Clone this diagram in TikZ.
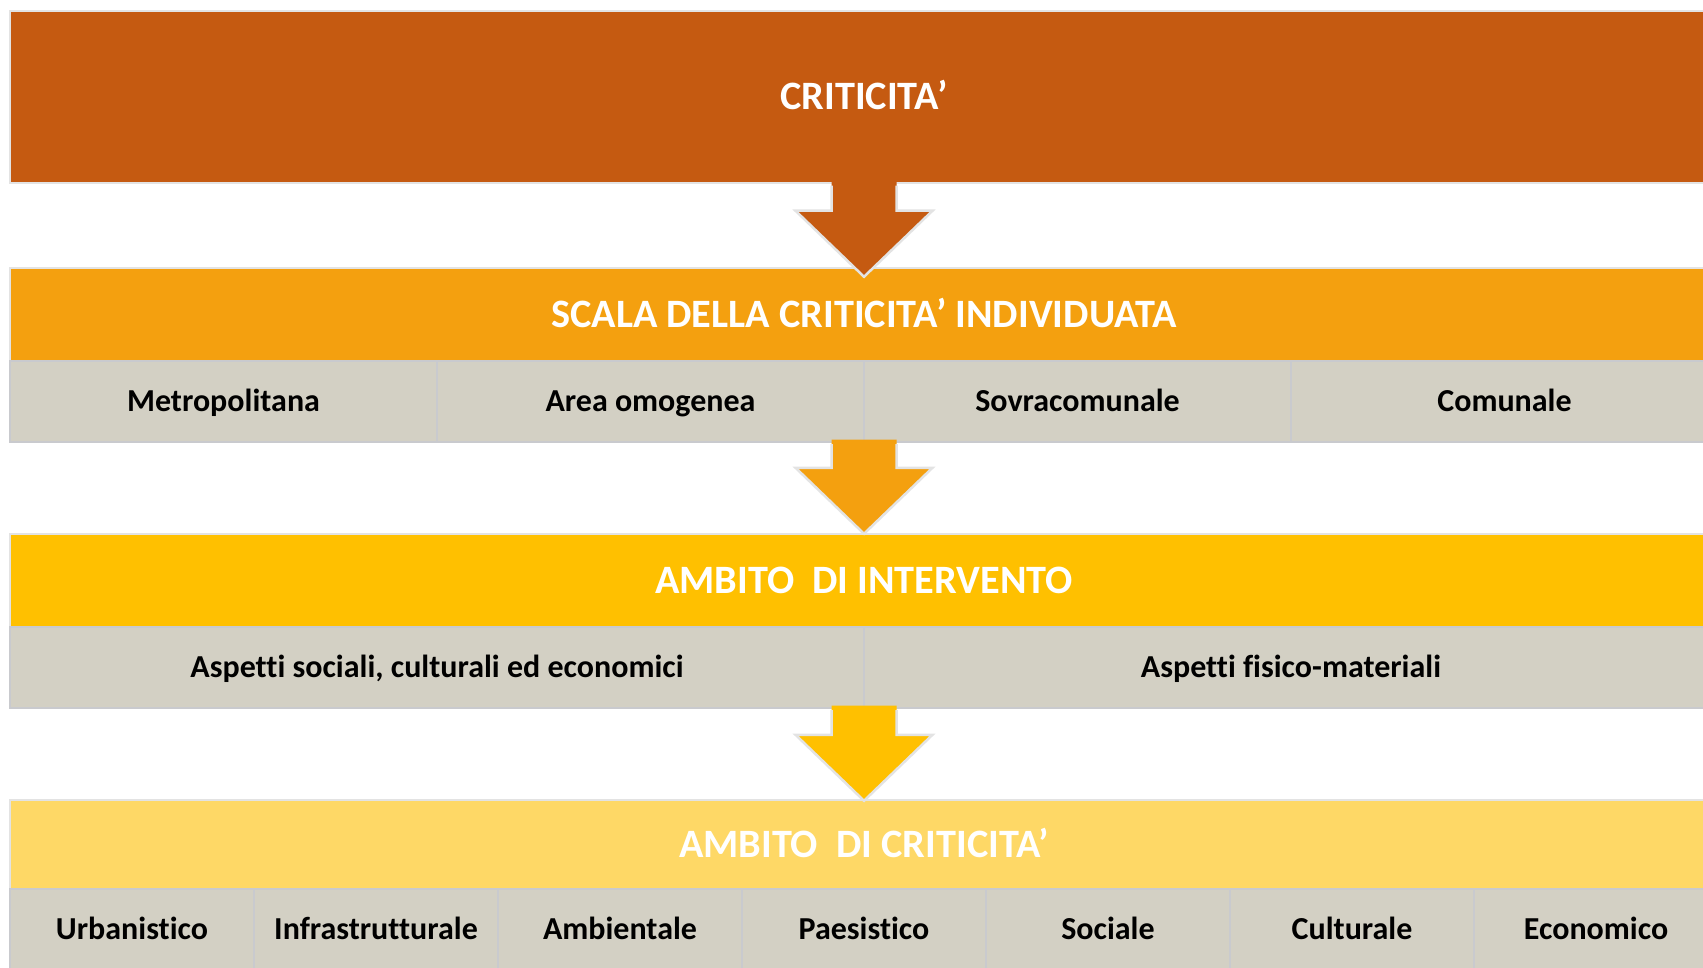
\documentclass[tikz,border=0pt]{standalone}
\usepackage{fontspec}
\setmainfont{Carlito}[Ligatures=CommonOff]
\usetikzlibrary{calc}
\definecolor{critica}{HTML}{C55A11}
\definecolor{scala}{HTML}{F4A00F}
\definecolor{ambito}{HTML}{FFC000}
\definecolor{ambcrit}{HTML}{FED866}
\definecolor{cella}{HTML}{D3D0C4}
\definecolor{bordo}{HTML}{E3E3E3}
\definecolor{divisore}{HTML}{C9CACE}

\begin{document}
\begin{tikzpicture}[x=1pt, y=-1pt, line join=miter,
    band/.style={draw=bordo, line width=2.5pt, minimum width=1708pt, inner sep=0pt,
      text=white, font=\fontsize{40.3}{42}\selectfont\bfseries, text height=26pt, text depth=0pt},
    cell/.style={fill=cella, draw=divisore, line width=1.2pt, minimum height=81pt, inner sep=0pt,
      font=\fontsize{32}{34}\selectfont\bfseries, text height=20.6pt, text depth=0pt},
    freccia/.style={draw=bordo, line width=2.5pt}]
  \clip (0,0) rectangle (1703,968);
  \fill[white] (0,0) rectangle (1703,968);
  % bands
  \node[band, fill=critica, minimum height=172pt] (criticita) at (864,97) {CRITICITA’};
  \node[band, fill=scala, minimum height=93pt] (scala) at (864,314.5) {SCALA DELLA CRITICITA’ INDIVIDUATA};
  \node[band, fill=ambito, minimum height=93pt] (ambito) at (864,580.5) {AMBITO~~DI INTERVENTO};
  \node[band, fill=ambcrit, minimum height=89pt] (ambcrit) at (864,844.5) {AMBITO~~DI CRITICITA’};
  % cells
  \foreach \t [count=\i] in {Metropolitana, Area omogenea, Sovracomunale, Comunale}
    \node[cell, minimum width=427pt] (m\i) at (\i*427-203.5,401.5) {\t};
  \foreach \t [count=\i] in {{Aspetti sociali, culturali ed economici}, Aspetti fisico-materiali}
    \node[cell, minimum width=854pt] (a\i) at (\i*854-417,667.5) {\t};
  \foreach \t [count=\i] in {Urbanistico, Infrastrutturale, Ambientale, Paesistico, Sociale, Culturale, Economico}
    \node[cell, minimum width=244pt] (c\i) at (\i*244-112,929.5) {\t};
  % arrows
  \foreach \a/\b/\c/\d in {criticita/scala/critica/10, m2/ambito/scala/1, a1/ambcrit/ambito/2} {
    \fill[\c] ($(\a.south -| \b.north)+(-32.5,-3)$) -- ($(\b.north)+(-32.5,\d-66)$)
      -- ($(\b.north)+(-68.5,\d-66)$) -- ($(\b.north)+(0,\d)$) -- ($(\b.north)+(68.5,\d-66)$)
      -- ($(\b.north)+(32.5,\d-66)$) -- ($(\a.south -| \b.north)+(32.5,-3)$) -- cycle;
    \draw[freccia] ($(\a.south -| \b.north)+(-32.5,1.5)$) -- ($(\b.north)+(-32.5,\d-66)$)
      -- ($(\b.north)+(-68.5,\d-66)$) -- ($(\b.north)+(0,\d)$) -- ($(\b.north)+(68.5,\d-66)$)
      -- ($(\b.north)+(32.5,\d-66)$) -- ($(\a.south -| \b.north)+(32.5,1.5)$);
  }
\end{tikzpicture}
\end{document}
